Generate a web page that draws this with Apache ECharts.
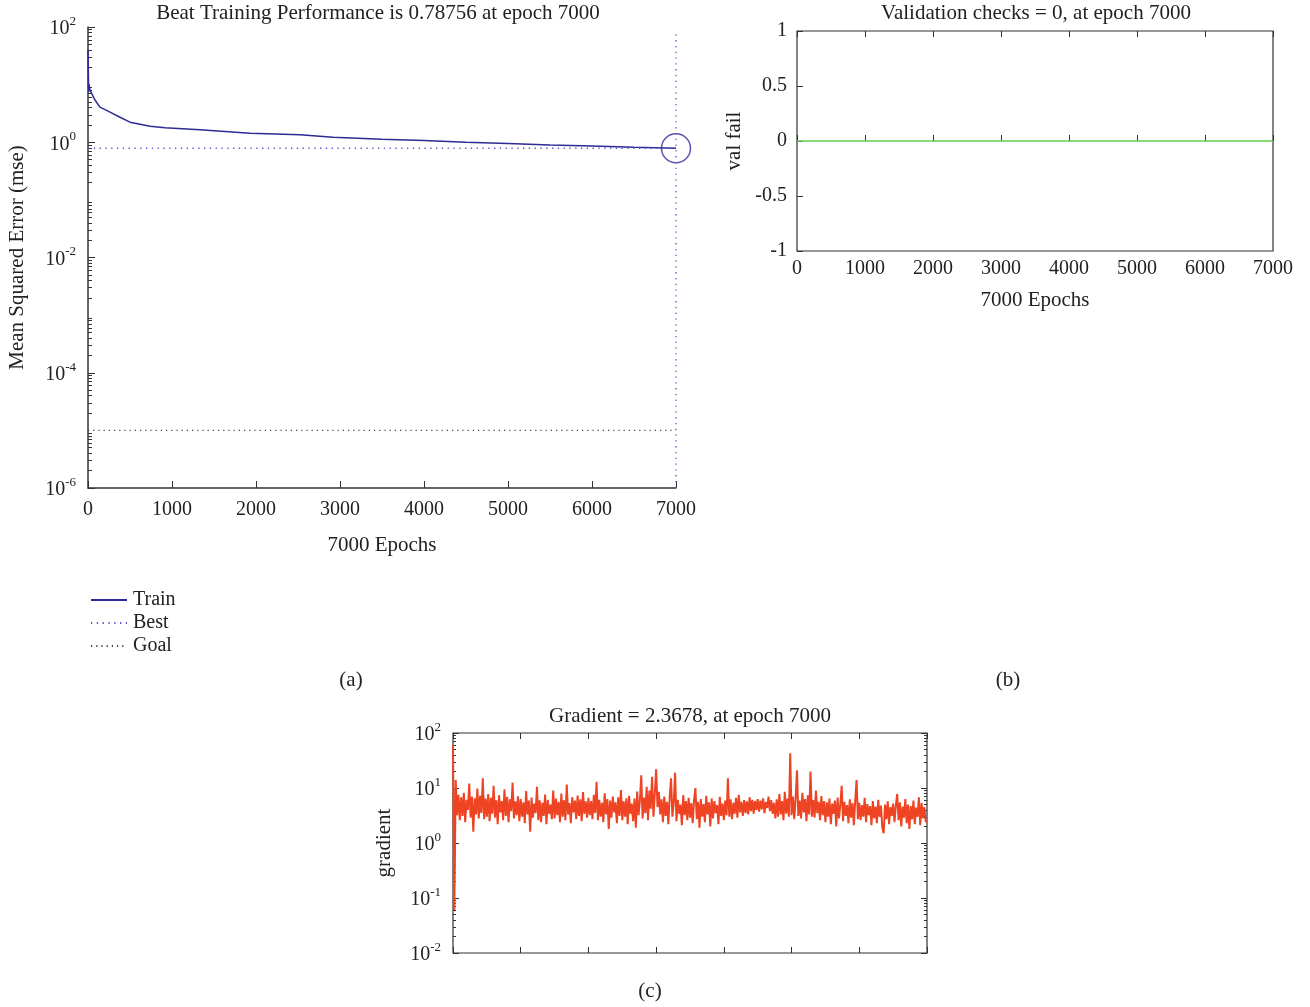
<!DOCTYPE html>
<html>
<head>
<meta charset="utf-8">
<title>Training record</title>
<script src="https://cdn.jsdelivr.net/npm/echarts@6/dist/echarts.min.js"></script>
<style>
  html, body { margin: 0; padding: 0; background: #fff; }
  #chart { width: 1310px; height: 1007px; }
</style>
</head>
<body>
<div id="chart"></div>
<script>
// (a) training performance
const perfEpochs = [0, 8, 12, 24, 83, 143, 262, 381, 500, 619, 738, 917, 1333, 1929, 2524, 2917, 3500, 4000, 4500, 5000, 5500, 6000, 6500, 7000];
const perfMse = [40, 7.5, 10.2, 8.0, 5.4, 4.06, 3.33, 2.72, 2.23, 2.06, 1.9, 1.79, 1.65, 1.43, 1.35, 1.22, 1.13, 1.07, 1.0, 0.95, 0.9, 0.86, 0.82, 0.78756];
const bestPerf = 0.78756;
const bestEpoch = 7000;
const goalMse = 1e-5;

// (b) validation checks
const valEpochs = [0, 7000];
const valFail = [0, 0];

// (c) gradient, one reading every 20 epochs
const gradStep = 20;
const gradValues = [
  60, 0.06, 14, 3.2, 7.5, 2.6, 6.8, 3.1, 8.2, 2.4, 6.1, 4.0, 12, 2.9, 7.0, 1.6, 6.5, 3.3, 9.8, 2.8, 7.2, 3.5, 15, 2.7, 6.4,
  3.0, 7.8, 2.5, 6.6, 3.4, 11, 2.9, 6.0, 2.2, 7.4, 3.6, 5.8, 2.6, 9.5, 3.1, 6.9, 2.4, 6.2, 3.8, 12.5, 2.8, 5.7, 3.2, 7.1, 2.5,
  6.3, 3.0, 5.5, 2.3, 8.8, 3.3, 5.9, 1.6, 6.7, 2.9, 5.2, 3.5, 10.5, 2.6, 6.0, 2.4, 5.4, 3.1, 7.6, 2.2, 6.1, 3.4, 5.0, 2.7, 9.0,
  2.8, 6.4, 3.2, 5.6, 2.4, 7.9, 3.0, 6.0, 2.6, 11.5, 3.3, 5.3, 2.3, 6.8, 3.6, 5.9, 2.7, 7.3, 3.1, 6.2, 2.5, 8.4, 3.4, 5.7, 2.9,
  6.6, 3.2, 5.8, 2.7, 7.5, 3.5, 13, 2.6, 6.1, 3.0, 5.4, 2.4, 8.0, 3.3, 6.3, 1.8, 5.9, 2.9, 7.0, 3.6, 5.5, 2.3, 6.8, 3.1, 9.2,
  2.6, 5.7, 3.0, 6.5, 2.2, 7.2, 3.4, 5.2, 2.5, 6.4, 1.9, 8.6, 3.2, 5.9, 17, 2.8, 6.7, 3.5, 10.5, 2.6, 9.0, 4.2, 16, 3.0, 7.8,
  22, 4.5, 8.5, 3.3, 6.2, 2.4, 7.0, 3.1, 5.6, 2.2, 6.8, 15, 3.0, 5.4, 19, 2.5, 6.1, 3.4, 5.0, 2.1, 7.4, 3.2, 5.8, 2.6, 6.6,
  2.9, 5.3, 2.3, 6.0, 10, 2.7, 5.6, 1.9, 6.3, 3.0, 5.1, 2.4, 7.2, 3.3, 5.5, 2.0, 6.4, 2.8, 5.8, 3.5, 4.9, 2.2, 6.9, 3.1, 5.2,
  2.6, 5.9, 3.2, 15, 3.0, 6.2, 2.7, 5.4, 3.4, 6.6, 2.9, 7.5, 3.6, 5.6, 3.1, 6.0, 3.5, 5.7, 3.3, 6.8, 3.8, 6.1, 3.4, 5.8, 4.0,
  6.3, 3.7, 5.9, 4.1, 6.5, 3.5, 5.6, 4.3, 7.0, 3.8, 6.0, 3.4, 5.4, 2.8, 6.2, 3.0, 7.8, 3.3, 5.8, 2.6, 8.5, 3.4, 6.4, 3.0, 43,
  3.2, 7.0, 2.7, 6.5, 21, 3.1, 5.9, 2.8, 8.2, 3.6, 6.3, 2.5, 7.4, 3.3, 20, 3.0, 6.0, 2.9, 9.0, 3.5, 5.6, 2.6, 7.1, 3.2, 5.8,
  2.4, 5.5, 3.0, 6.4, 2.2, 5.2, 3.4, 5.9, 2.0, 6.7, 2.8, 5.0, 11, 2.5, 5.6, 3.1, 4.9, 2.3, 6.2, 2.9, 5.3, 2.1, 6.0, 14, 2.7,
  5.4, 2.6, 4.9, 3.0, 6.6, 2.4, 5.1, 3.2, 4.7, 2.1, 5.8, 2.8, 4.6, 2.3, 6.1, 3.0, 4.8, 1.9, 1.5, 5.0, 2.7, 5.7, 2.2, 4.5, 3.1,
  5.2, 2.4, 4.8, 7.8, 2.6, 5.5, 2.0, 4.6, 2.9, 6.3, 2.3, 5.0, 1.8, 4.7, 2.7, 5.9, 2.2, 4.4, 3.0, 6.8, 2.1, 5.3, 2.8, 4.5, 2.5,
  2.3678
];

// tick labels
const epochTicks = [0, 1000, 2000, 3000, 4000, 5000, 6000, 7000];
const mseDecades = [1e-6, 1e-4, 1e-2, 1, 100];
const gradDecades = [0.01, 0.1, 1, 10, 100];
const valTicks = [-1, -0.5, 0, 0.5, 1];

const FONT = '"Liberation Serif", "DejaVu Serif", serif';
const INK = '#222';
const AXIS = '#333';
const NAVY = '#2e2a96';
const BEST = '#5a55c8';

// 2..9 times every decade between lo and hi
function minorValues(lo, hi) {
  const out = [];
  for (let d = lo; d < hi * 0.999; d *= 10) {
    for (let k = 2; k <= 9; k++) out.push(+(d * k).toPrecision(3));
  }
  return out;
}

const powLabel = {
  formatter: v => '{b|10}{s|' + Math.round(Math.log10(v)) + '}',
  rich: {
    b: { fontSize: 20, fontFamily: FONT, color: INK, lineHeight: 24, verticalAlign: 'bottom' },
    s: { fontSize: 13, fontFamily: FONT, color: INK, lineHeight: 14, verticalAlign: 'top' }
  }
};

const tickFont = { fontSize: 20, fontFamily: FONT, color: INK };
const nameFont = { fontSize: 21, fontFamily: FONT, color: INK };
const plainNum = v => String(v);

function tickOnly(extra) {
  return Object.assign({
    axisLine: { show: false },
    axisLabel: { show: false },
    splitLine: { show: false },
    axisTick: { inside: true, length: 6, lineStyle: { color: AXIS } }
  }, extra);
}

function caption(text, x, y) {
  return { type: 'text', x: x, y: y, style: { text: text, font: '21px ' + FONT, fill: INK, align: 'center', verticalAlign: 'middle' } };
}

const chart = echarts.init(document.getElementById('chart'), null, { renderer: 'canvas' });

const gradData = gradValues.map((v, i) => [i * gradStep, v]);

chart.setOption({
  animation: false,
  backgroundColor: '#fff',
  grid: [
    { left: 88, top: 27, width: 588, height: 461 },
    { left: 797, top: 31, width: 476, height: 220, show: true, borderColor: AXIS, borderWidth: 1.2 },
    { left: 453, top: 733, width: 474, height: 220, show: true, borderColor: AXIS, borderWidth: 1.2 }
  ],
  legend: {
    orient: 'vertical',
    left: 85,
    top: 585,
    itemWidth: 36,
    itemHeight: 12,
    itemGap: 3,
    data: ['Train', 'Best', 'Goal'],
    itemStyle: { opacity: 0, borderWidth: 0 },
    textStyle: { fontSize: 20, fontFamily: FONT, color: INK, padding: [0, 0, 0, 1] }
  },
  xAxis: [
    {
      gridIndex: 0, type: 'value', min: 0, max: 7000, interval: 1000,
      name: '7000 Epochs', nameLocation: 'middle', nameGap: 47,
      nameTextStyle: nameFont,
      axisLine: { lineStyle: { color: AXIS, width: 1.5 } },
      axisTick: { inside: true, length: 7, lineStyle: { color: AXIS } },
      axisLabel: Object.assign({ margin: 12, formatter: plainNum, customValues: epochTicks }, tickFont),
      splitLine: { show: false }
    },
    {
      gridIndex: 1, type: 'value', min: 0, max: 7000, interval: 1000,
      name: '7000 Epochs', nameLocation: 'middle', nameGap: 39,
      nameTextStyle: nameFont,
      axisLine: { show: false },
      axisTick: { inside: true, length: 6, lineStyle: { color: AXIS } },
      axisLabel: Object.assign({ margin: 8, formatter: plainNum, customValues: epochTicks }, tickFont),
      splitLine: { show: false }
    },
    tickOnly({ gridIndex: 1, type: 'value', position: 'top', min: 0, max: 7000, interval: 1000 }),
    tickOnly({ gridIndex: 2, type: 'value', position: 'bottom', min: 0, max: 7000, interval: 1000 }),
    tickOnly({ gridIndex: 2, type: 'value', position: 'top', min: 0, max: 7000, interval: 1000 })
  ],
  yAxis: [
    {
      gridIndex: 0, type: 'log', logBase: 10, min: mseDecades[0], max: mseDecades[mseDecades.length - 1],
      interval: 2, splitNumber: 4,
      name: 'Mean Squared Error (mse)', nameLocation: 'middle', nameGap: 60,
      nameTextStyle: nameFont,
      axisLine: { lineStyle: { color: AXIS, width: 1.5 } },
      axisTick: { inside: true, length: 7, customValues: mseDecades, lineStyle: { color: AXIS } },
      axisLabel: Object.assign({ margin: 12, customValues: mseDecades }, powLabel),
      splitLine: { show: false }
    },
    tickOnly({
      gridIndex: 0, type: 'log', logBase: 10, position: 'left', min: mseDecades[0], max: 100,
      axisTick: { inside: true, length: 4, customValues: minorValues(1e-6, 100), lineStyle: { color: AXIS } }
    }),
    {
      gridIndex: 1, type: 'value', min: -1, max: 1, interval: 0.5,
      name: 'val fail', nameLocation: 'middle', nameGap: 52,
      nameTextStyle: nameFont,
      axisLine: { show: false },
      axisTick: { inside: true, length: 6, lineStyle: { color: AXIS } },
      axisLabel: Object.assign({ margin: 10, customValues: valTicks }, tickFont),
      splitLine: { show: false }
    },
    {
      gridIndex: 2, type: 'log', logBase: 10, min: 0.01, max: 100, interval: 1, splitNumber: 4,
      name: 'gradient', nameLocation: 'middle', nameGap: 58,
      nameTextStyle: nameFont,
      axisLine: { show: false },
      axisTick: { inside: true, length: 6, customValues: gradDecades, lineStyle: { color: AXIS } },
      axisLabel: Object.assign({ margin: 12, customValues: gradDecades }, powLabel),
      splitLine: { show: false }
    },
    tickOnly({
      gridIndex: 2, type: 'log', logBase: 10, position: 'left', min: 0.01, max: 100,
      axisTick: { inside: true, length: 3, customValues: minorValues(0.01, 100), lineStyle: { color: AXIS } }
    }),
    tickOnly({
      gridIndex: 2, type: 'log', logBase: 10, position: 'right', min: 0.01, max: 100,
      axisTick: { inside: true, length: 6, customValues: gradDecades, lineStyle: { color: AXIS } }
    }),
    tickOnly({
      gridIndex: 2, type: 'log', logBase: 10, position: 'right', min: 0.01, max: 100,
      axisTick: { inside: true, length: 3, customValues: minorValues(0.01, 100), lineStyle: { color: AXIS } }
    })
  ],
  series: [
    {
      name: 'Train', type: 'line', xAxisIndex: 0, yAxisIndex: 0,
      data: perfEpochs.map((e, i) => [e, perfMse[i]]),
      symbol: 'none', lineStyle: { color: NAVY, width: 1.5 }, itemStyle: { color: NAVY }
    },
    {
      name: 'Best', type: 'line', xAxisIndex: 0, yAxisIndex: 0,
      data: [[0, bestPerf], [bestEpoch, bestPerf]],
      symbol: 'none', lineStyle: { color: BEST, width: 1.3, type: [1.3, 4.5] }, itemStyle: { color: BEST }
    },
    {
      name: 'Best', type: 'line', xAxisIndex: 0, yAxisIndex: 0,
      data: [[bestEpoch, mseDecades[0]], [bestEpoch, 80]],
      symbol: 'none', lineStyle: { color: BEST, width: 1.3, type: [1.3, 4.5] }
    },
    {
      name: 'Goal', type: 'line', xAxisIndex: 0, yAxisIndex: 0,
      data: [[0, goalMse], [bestEpoch, goalMse]],
      symbol: 'none', lineStyle: { color: '#444', width: 1.2, type: [1.2, 4] }, itemStyle: { color: '#444' }
    },
    {
      name: 'best point', type: 'scatter', xAxisIndex: 0, yAxisIndex: 0,
      data: [[bestEpoch, bestPerf]], symbolSize: 29,
      itemStyle: { color: 'rgba(0,0,0,0)', borderColor: NAVY, borderWidth: 1.5 }
    },
    {
      name: 'val fail', type: 'line', xAxisIndex: 1, yAxisIndex: 2,
      data: valEpochs.map((e, i) => [e, valFail[i]]),
      symbol: 'none', lineStyle: { color: '#66c94f', width: 1.5 }
    },
    {
      name: 'gradient', type: 'line', xAxisIndex: 3, yAxisIndex: 3,
      data: gradData, symbol: 'none',
      lineStyle: { color: '#ee4423', width: 2, join: 'bevel' }
    }
  ],
  graphic: [
    caption('Beat Training Performance is 0.78756 at epoch 7000', 378, 13),
    caption('Validation checks = 0, at epoch 7000', 1036, 13),
    caption('Gradient = 2.3678, at epoch 7000', 690, 716),
    caption('(a)', 351, 680),
    caption('(b)', 1008, 680),
    caption('(c)', 650, 991)
  ]
});
</script>
</body>
</html>
